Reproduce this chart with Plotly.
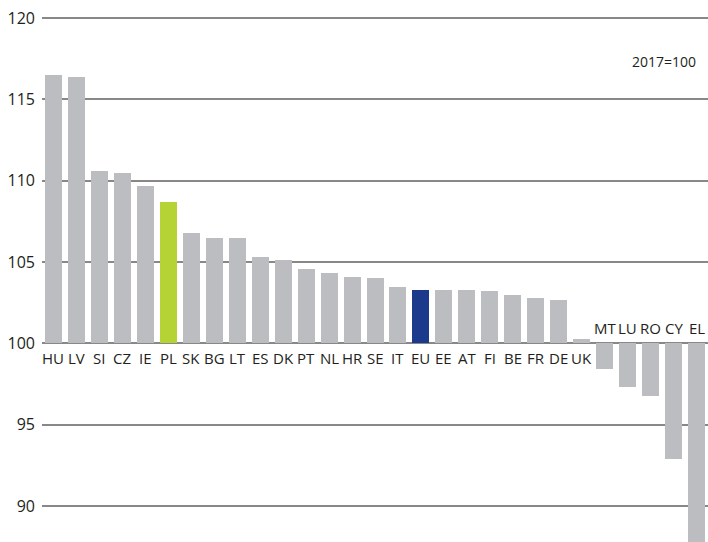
import plotly.graph_objects as go

countries = ["HU", "LV", "SI", "CZ", "IE", "PL", "SK", "BG", "LT", "ES", "DK", "PT", "NL", "HR", "SE",
             "IT", "EU", "EE", "AT", "FI", "BE", "FR", "DE", "UK", "MT", "LU", "RO", "CY", "EL"]
values = [116.5, 116.4, 110.6, 110.5, 109.7, 108.7, 106.8, 106.5, 106.5, 105.3, 105.1, 104.55, 104.3, 104.1, 104.05,
          103.45, 103.3, 103.3, 103.3, 103.25, 102.95, 102.8, 102.65, 100.25, 98.4, 97.3, 96.75, 92.9, 87.5]
base_value = 100
y_ticks = [90, 95, 100, 105, 110, 115, 120]
note = "2017=100"

GREY = "#bcbdc0"
highlight = {"PL": "#b5d334", "EU": "#1b3a8c"}
colors = [highlight.get(c, GREY) for c in countries]

fig = go.Figure()
fig.add_trace(go.Bar(
    x=list(range(len(countries))),
    y=[v - base_value for v in values],
    base=base_value,
    marker=dict(color=colors, line=dict(width=0)),
    width=0.74,
    hoverinfo="skip",
))

font_family = "Open Sans, DejaVu Sans, sans-serif"
for i, (c, v) in enumerate(zip(countries, values)):
    above = v < base_value
    fig.add_annotation(
        x=i, y=base_value, xref="x", yref="y", text=c, showarrow=False,
        yshift=15 if above else -15,
        font=dict(family=font_family, size=15, color="#231f20"),
    )

fig.add_annotation(
    x=1, y=117.3, xref="paper", yref="y", text=note, showarrow=False,
    xanchor="right", xshift=-10,
    font=dict(family=font_family, size=14, color="#231f20"),
)

fig.update_layout(
    width=708, height=542,
    margin=dict(l=42, r=0, t=0, b=0),
    plot_bgcolor="white", paper_bgcolor="white",
    showlegend=False,
    bargap=0,
)
fig.update_xaxes(range=[-0.5, len(countries) - 0.5], showticklabels=False, showgrid=False,
                 zeroline=False, showline=False)
fig.update_yaxes(range=[87.8, 121.1], tickvals=y_ticks, ticktext=[str(t) for t in y_ticks],
                 showgrid=True, gridcolor="#888888", gridwidth=1.5, zeroline=False, showline=False,
                 ticks="", ticklabelstandoff=6,
                 tickfont=dict(family=font_family, size=16, color="#231f20"))

fig.write_html("out.html", config={"displayModeBar": False})

with open("out.html", "r", encoding="utf-8") as f:
    html = f.read()
html = html.replace("<body>", '<body style="margin:0;overflow:hidden">', 1)
with open("out.html", "w", encoding="utf-8") as f:
    f.write(html)
